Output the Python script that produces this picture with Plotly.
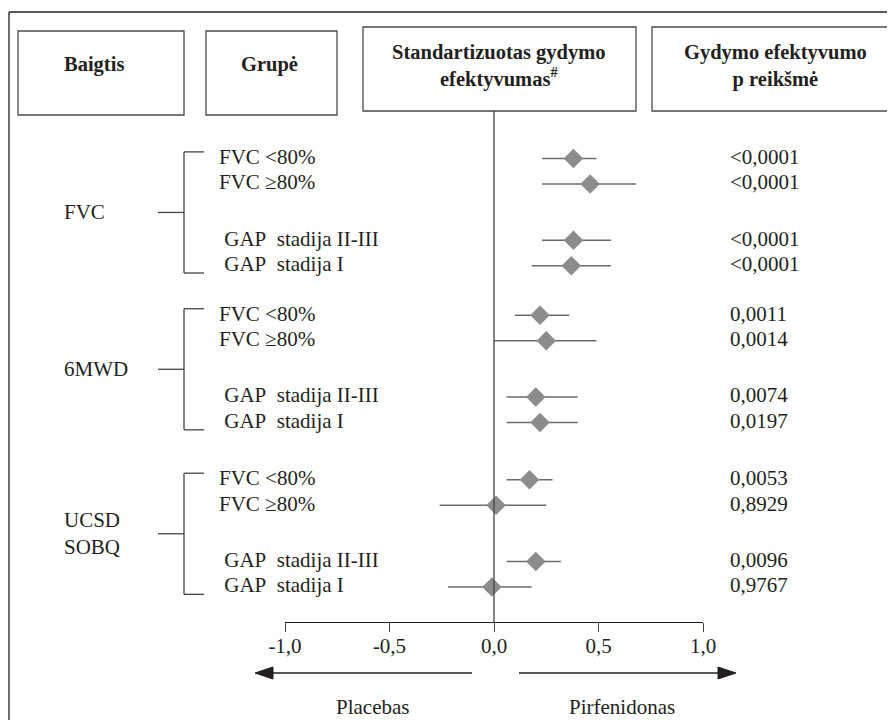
import plotly.graph_objects as go

# ---------------- data ----------------
outcomes = ["FVC", "6MWD", "UCSD<br>SOBQ"]
subgroups = ["FVC &lt;80%", "FVC ≥80%", "\u00a0GAP\u00a0 stadija II-III", "\u00a0GAP\u00a0 stadija I"]
estimate = [0.38, 0.46, 0.38, 0.37,
            0.22, 0.25, 0.20, 0.22,
            0.17, 0.01, 0.20, -0.01]
ci_low = [0.23, 0.23, 0.23, 0.18,
          0.10, 0.00, 0.06, 0.06,
          0.06, -0.26, 0.06, -0.22]
ci_high = [0.49, 0.68, 0.56, 0.56,
           0.36, 0.49, 0.40, 0.40,
           0.28, 0.25, 0.32, 0.18]
p_values = ["&lt;0,0001", "&lt;0,0001", "&lt;0,0001", "&lt;0,0001",
            "0,0011", "0,0014", "0,0074", "0,0197",
            "0,0053", "0,8929", "0,0096", "0,9767"]
tick_vals = [-1.0, -0.5, 0.0, 0.5, 1.0]
tick_text = ["-1,0", "-0,5", "0,0", "0,5", "1,0"]
headers = ["Baigtis", "Grupė", "Standartizuotas gydymo<br>efektyvumas<sup>#</sup>",
           "Gydymo efektyvumo<br>p reikšmė"]
direction_labels = ["Placebas", "Pirfenidonas"]

# ---------------- layout helpers ----------------
W, H = 895, 720
OFF = 8  # page body margin offset
FONT = "Liberation Serif, Times New Roman, serif"
TXT = "#231f20"
FS = 21

def px(x):
    return (x - OFF) / W

def py(y):
    return 1 - (y - OFF) / H

group_start = [0.0, 6.15, 12.6]
row_offset = [0.0, 1.0, 3.2, 4.2]
ypos = [group_start[g] + row_offset[r] for g in range(len(outcomes)) for r in range(len(subgroups))]

# slot -> pixel: 157 + 25.5*slot
SLOT0, SLOT = 157.0, 25.5
axis_top_px, axis_bot_px = 111.0, 622.0
yrange = [(axis_bot_px - SLOT0) / SLOT, (axis_top_px - SLOT0) / SLOT]

fig = go.Figure()

fig.add_trace(go.Scatter(
    x=estimate, y=[v + 0.06 for v in ypos], mode="markers",
    marker=dict(symbol="diamond", size=15, color="#8c8c8c", line=dict(width=0)),
    error_x=dict(type="data", symmetric=False,
                 array=[h - e for h, e in zip(ci_high, estimate)],
                 arrayminus=[e - l for e, l in zip(estimate, ci_low)],
                 color="#6a6a6a", thickness=1.5, width=0),
    cliponaxis=False, hoverinfo="skip", showlegend=False,
))

shapes = []
annotations = []

# outer frame
shapes.append(dict(type="line", xref="paper", yref="paper", x0=px(9), x1=px(903), y0=py(12), y1=py(12),
                   line=dict(color=TXT, width=1.3)))
shapes.append(dict(type="line", xref="paper", yref="paper", x0=px(9), x1=px(9), y0=py(12), y1=py(728),
                   line=dict(color=TXT, width=1.3)))

# header boxes
boxes = [(18, 31, 184, 115), (206, 31, 337, 115), (363, 27, 636, 111), (652, 27, 893, 111)]
hdr_pos = [(94, 65), (269, 65), (499, 66), (775, 66)]
for (x0, y0, x1, y1), (tx, ty), label in zip(boxes, hdr_pos, headers):
    shapes.append(dict(type="rect", xref="paper", yref="paper", x0=px(x0), x1=px(x1), y0=py(y0), y1=py(y1),
                       line=dict(color="#4a4a4a", width=1.3), fillcolor="rgba(0,0,0,0)"))
    annotations.append(dict(xref="paper", yref="paper", x=px(tx), y=py(ty), text="<b>" + label + "</b>",
                            showarrow=False, xanchor="center", yanchor="middle",
                            font=dict(family=FONT, size=20.5, color=TXT)))

# zero line
shapes.append(dict(type="line", xref="x", yref="paper", x0=0, x1=0, y0=py(axis_top_px), y1=py(axis_bot_px),
                   line=dict(color="#444444", width=1.3)))

# brackets and group labels
for g, name in enumerate(outcomes):
    top = group_start[g] + row_offset[0] - 0.2
    bot = group_start[g] + row_offset[-1] + 0.35
    mid = (top + bot) / 2
    line = dict(color="#444444", width=1.3)
    shapes.append(dict(type="line", xref="paper", yref="y", x0=px(184), x1=px(184), y0=top, y1=bot, line=line))
    shapes.append(dict(type="line", xref="paper", yref="y", x0=px(184), x1=px(204), y0=top, y1=top, line=line))
    shapes.append(dict(type="line", xref="paper", yref="y", x0=px(184), x1=px(204), y0=bot, y1=bot, line=line))
    shapes.append(dict(type="line", xref="paper", yref="y", x0=px(158), x1=px(184), y0=mid, y1=mid, line=line))
    annotations.append(dict(xref="paper", yref="y", x=px(62), y=mid, text=name, showarrow=False,
                            xanchor="left", yanchor="middle", align="left",
                            font=dict(family=FONT, size=FS, color=TXT)))

# row labels and p-values
for i, yv in enumerate(ypos):
    annotations.append(dict(xref="paper", yref="y", x=px(217), y=yv, text=subgroups[i % len(subgroups)],
                            showarrow=False, xanchor="left", yanchor="middle",
                            font=dict(family=FONT, size=FS, color=TXT)))
    annotations.append(dict(xref="paper", yref="y", x=px(728), y=yv, text=p_values[i],
                            showarrow=False, xanchor="left", yanchor="middle",
                            font=dict(family=FONT, size=FS, color=TXT)))

# direction arrows (line + filled triangular head)
AY = 673
for tail, tip in [(472, 255), (519, 736)]:
    d = 1 if tip > tail else -1
    base = tip - d * 18
    shapes.append(dict(type="line", xref="paper", yref="paper", x0=px(tail), x1=px(base), y0=py(AY), y1=py(AY),
                       line=dict(color=TXT, width=1.5)))
    path = "M {} {} L {} {} L {} {} Z".format(px(tip), py(AY), px(base), py(AY - 6), px(base), py(AY + 6))
    shapes.append(dict(type="path", xref="paper", yref="paper", path=path,
                       fillcolor=TXT, line=dict(color=TXT, width=1)))
for cx, label in zip([372, 622], direction_labels):
    annotations.append(dict(xref="paper", yref="paper", x=px(cx), y=py(707), text=label, showarrow=False,
                            xanchor="center", yanchor="middle", font=dict(family=FONT, size=FS, color=TXT)))

fig.update_layout(
    template="none",
    width=W, height=H, margin=dict(l=0, r=0, t=0, b=0, pad=0, autoexpand=False),
    paper_bgcolor="white", plot_bgcolor="white",
    shapes=shapes, annotations=annotations, showlegend=False,
    xaxis=dict(domain=[px(285), px(703)], range=[-1, 1], tickvals=tick_vals, ticktext=tick_text,
               ticks="outside", ticklen=9, tickwidth=1.3, tickcolor="#444444", ticklabelstandoff=-4,
               showline=True, linecolor=TXT, linewidth=1.3, showgrid=False, zeroline=False,
               automargin=False,
               tickfont=dict(family=FONT, size=FS, color=TXT), fixedrange=True),
    yaxis=dict(domain=[py(axis_bot_px), py(axis_top_px)], range=yrange, visible=False,
               automargin=False, showgrid=False, zeroline=False, fixedrange=True),
)

fig.write_html("out.html", config={"displayModeBar": False})
